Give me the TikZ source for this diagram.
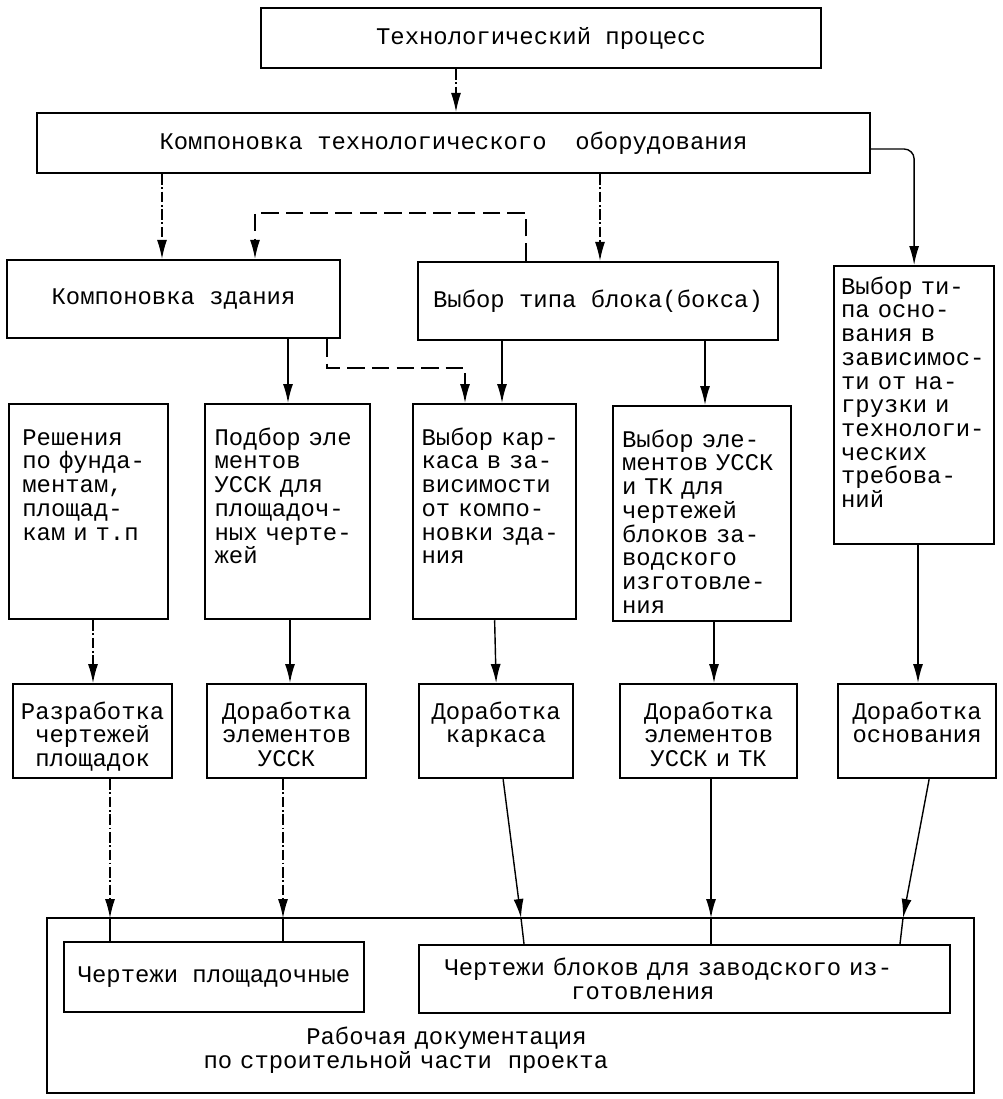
\documentclass[tikz,border=0pt]{standalone}
\usepackage{fontspec}
\newfontfamily\typewr{Liberation Mono}
\usetikzlibrary{arrows.meta, calc}

\begin{document}
\begin{tikzpicture}[x=0.02cm, y=-0.02cm, >={Latex[length=0.38cm, width=0.2cm]},
	every node/.style={font=\typewr\fontsize{13.6}{13.5}\selectfont},
	box/.style={draw, line width=1.3pt, inner sep=0pt},
	tall/.style={box, anchor=north west, align=left, text width=2.92cm, text height=0.82cm, text depth=3.48cm},
	low/.style={box, anchor=north west, align=center, text width=2.92cm, text height=0.7cm, text depth=1.18cm},
	link/.style={line width=0.8pt},
	faint/.style={line width=0.7pt, dash pattern=on 6pt off 1.5pt on 1pt off 1.5pt},
	backlink/.style={line width=0.8pt, dash pattern=on 10pt off 4pt}]
\useasboundingbox (0,0) rectangle (1002,1099);

\path (541,38) node[box, minimum width=11.2cm, minimum height=1.2cm] (tp) {Технологический процесс}
	  (453.5,143) node[box, minimum width=16.66cm, minimum height=1.2cm] (kto) {Компоновка технологического\ \ оборудования}

	  (173.5,299) node[box, minimum width=6.66cm, minimum height=1.56cm] (kzd) {Компоновка здания}
	  (598,301) node[box, minimum width=7.2cm, minimum height=1.56cm] (vtb) {Выбор типа блока(бокса)}
	  (833,265) node[tall, minimum width=3.2cm, text height=0.56cm, text depth=5cm] (osn) {Выбор ти-\\па осно-\\вания в\\зависимос-\\ти от на-\\грузки и\\технологи-\\ческих\\требова-\\ний}

	  (8,403) node[tall, text width=2.65cm, minimum width=3.18cm] (resh) {Решения\\по фунда-\\ментам,\\площад-\\кам и т.п}
	  (204,403) node[tall, minimum width=3.3cm] (podb) {Подбор эле\\ментов\\УССК для\\площадоч-\\ных черте-\\жей}
	  (412,403) node[tall, minimum width=3.26cm] (vkar) {Выбор кар-\\каса в за-\\висимости\\от компо-\\новки зда-\\ния}
	  (612,405) node[tall, text width=3.2cm, minimum width=3.56cm] (velem) {Выбор эле-\\ментов УССК\\и ТК для\\чертежей\\блоков за-\\водского\\изготовле-\\ния}

	  (12,683) node[low, minimum width=3.18cm] (razr) {Разработка\\чертежей\\площадок}
	  (206,683) node[low, minimum width=3.18cm] (dusk) {Доработка\\элементов\\УССК}
	  (418,683) node[low, minimum width=3.08cm] (dkark) {Доработка\\каркаса}
	  (619,683) node[low, minimum width=3.54cm] (duskt) {Доработка\\элементов\\УССК и ТК}
	  (837,683) node[low, minimum width=3.16cm] (dosn) {Доработка\\основания}

	  (510.5,1005.5) node[box, minimum width=18.54cm, minimum height=3.5cm] (rabdoc) {}
	  (214,977) node[box, minimum width=6cm, minimum height=1.4cm] (plosh) {Чертежи площадочные}
	  (684.5,979) node[box, minimum width=10.62cm, minimum height=1.36cm, text width=9.6cm, align=left] (blok) {Чертежи блоков для заводского из-\\\hspace*{5.3em}готовления}
	  (421,1050.5) node[text width=8.7cm, align=left] (rabtxt) {\hspace*{4.3em}Рабочая документация\\по строительной части\ \ проекта};

% columns of the connectors
\coordinate (c0) at (456,0);
\coordinate (c1) at (162,0);
\coordinate (c2) at (600,0);
\coordinate (c3) at (288,0);
\coordinate (c4) at (502,0);
\coordinate (c5) at (705,0);
\coordinate (c6) at (93,0);
\coordinate (c7) at (290,0);
\coordinate (c8) at (714,0);
\coordinate (c9) at (918,0);

\draw[faint, ->] (tp.south -| c0) -- (kto.north -| c0);
\draw[faint, ->] (kto.south -| c1) -- (kzd.north -| c1);
\draw[faint, ->] (kto.south -| c2) -- (vtb.north -| c2);
\draw[link, ->, rounded corners=0.2cm] ($(kto.east)+(0,6)$) -| (osn.north);

% dashed links
\coordinate (l1) at (526,213);
\coordinate (l2) at (255,213);
\draw[backlink, ->] (vtb.north -| l1) -- (l1) -- (l2) -- (kzd.north -| l2);
\coordinate (m1) at (327,368);
\coordinate (m2) at (465,368);
\draw[backlink, ->] (kzd.south -| m1) -- (m1) -- (m2) -- (vkar.north -| m2);

\draw[link, ->] (kzd.south -| c3) -- (podb.north -| c3);
\draw[link, ->] (vtb.south -| c4) -- (vkar.north -| c4);
\draw[link, ->] (vtb.south -| c5) -- (velem.north -| c5);

\draw[faint, ->] (resh.south -| c6) -- (razr.north -| c6);
\draw[link, ->] (podb.south -| c7) -- (dusk.north -| c7);
\draw[link, ->] (vkar.south) -- (dkark.north);
\draw[link, ->] (velem.south -| c8) -- (duskt.north -| c8);
\draw[link, ->] (osn.south -| c9) -- (dosn.north -| c9);

% into the documentation
\coordinate (t1) at (110,918);
\coordinate (t2) at (283,918);
\coordinate (t3) at (521,918);
\coordinate (t4) at (711,918);
\coordinate (t5) at (903,918);
\draw[faint, ->] (razr.south -| t1) -- (t1);
\draw[faint, ->] (dusk.south -| t2) -- (t2);
\draw[link, ->] ($(dkark.south)+(7,0)$) -- (t3);
\draw[link, ->] (duskt.south -| t4) -- (t4);
\draw[link, ->] ($(dosn.south)+(12,0)$) -- (t5);
\draw[link] (t1) -- (t1 |- plosh.north);
\draw[link] (t2) -- (t2 |- plosh.north);
\draw[link] (t3) -- ($(t3 |- blok.north)+(3,0)$);
\draw[link] (t4) -- (t4 |- blok.north);
\draw[link] (t5) -- ($(t5 |- blok.north)+(-3,0)$);
\end{tikzpicture}
\end{document}
